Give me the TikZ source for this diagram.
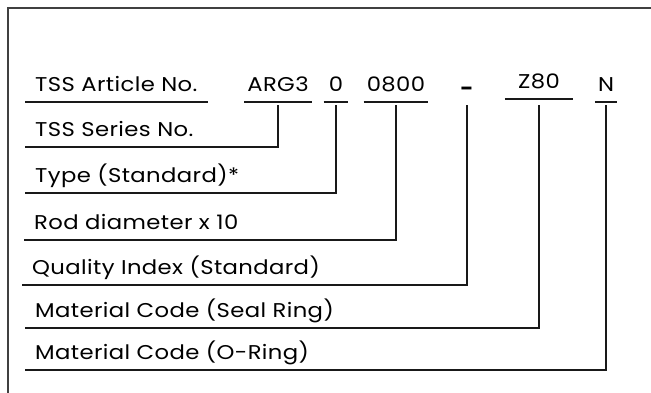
\documentclass[tikz,border=0pt]{standalone}
\usepackage{fontspec}
\setmainfont{Poppins}[FakeStretch=1.14, LetterSpace=2]
\begin{document}
\begin{tikzpicture}[x=1bp,y=-1bp,
  txt/.style={font=\fontsize{20}{24}\selectfont, text depth=0pt, inner ysep=10bp},
  lbl/.style={txt, anchor=south west, inner xsep=10bp},
  code/.style={txt, anchor=south, inner xsep=3bp},
  conn/.style={line width=1.2bp, draw=black!90},
  frame/.style={line width=1.6bp, draw=black!75}]
\useasboundingbox (0,0) rectangle (651,392);
\draw[frame] (660,8) -- (8,8) -- (8,400);
% top row
\node[lbl] (art) at (25,102) {TSS Article No.};
\node[code] (arg) at (278,102) {ARG3};
\node[code, inner xsep=5bp] (typ) at (336,102) {0};
\node[code] (rod) at (396,102) {0800};
\node[txt, anchor=base, inner sep=0pt, font=\bfseries\fontsize{20}{24}\selectfont] (dash) at (467,95) {-};
\node[code, inner xsep=13bp, inner ysep=10bp] (z) at (539,99) {Z80};
\node[code, inner xsep=3bp] (n) at (606,102) {N};
\foreach \c in {art,arg,typ,rod,z,n}{\draw[conn] (\c.south west) -- (\c.south east);}
% labels
\node[lbl] (series) at (25,147) {TSS Series No.};
\node[lbl] (type) at (25,193) {Type (Standard)*};
\node[lbl] (diam) at (24,240) {Rod diameter x 10};
\node[lbl] (qual) at (22,285) {Quality Index (Standard)};
\node[lbl] (seal) at (25,328) {Material Code (Seal Ring)};
\node[lbl] (oring) at (25,370) {Material Code (O-Ring)};
% connectors
\draw[conn] ([yshift=-3bp]arg.south) |- (series.south west);
\draw[conn] ([yshift=-3bp]typ.south) |- (type.south west);
\draw[conn] ([yshift=-3bp]rod.south) |- (diam.south west);
\draw[conn] ([yshift=-10bp]dash.south) |- (qual.south west);
\draw[conn] ([yshift=-6bp]z.south) |- (seal.south west);
\draw[conn] ([yshift=-3bp]n.south) |- (oring.south west);
\end{tikzpicture}
\end{document}
